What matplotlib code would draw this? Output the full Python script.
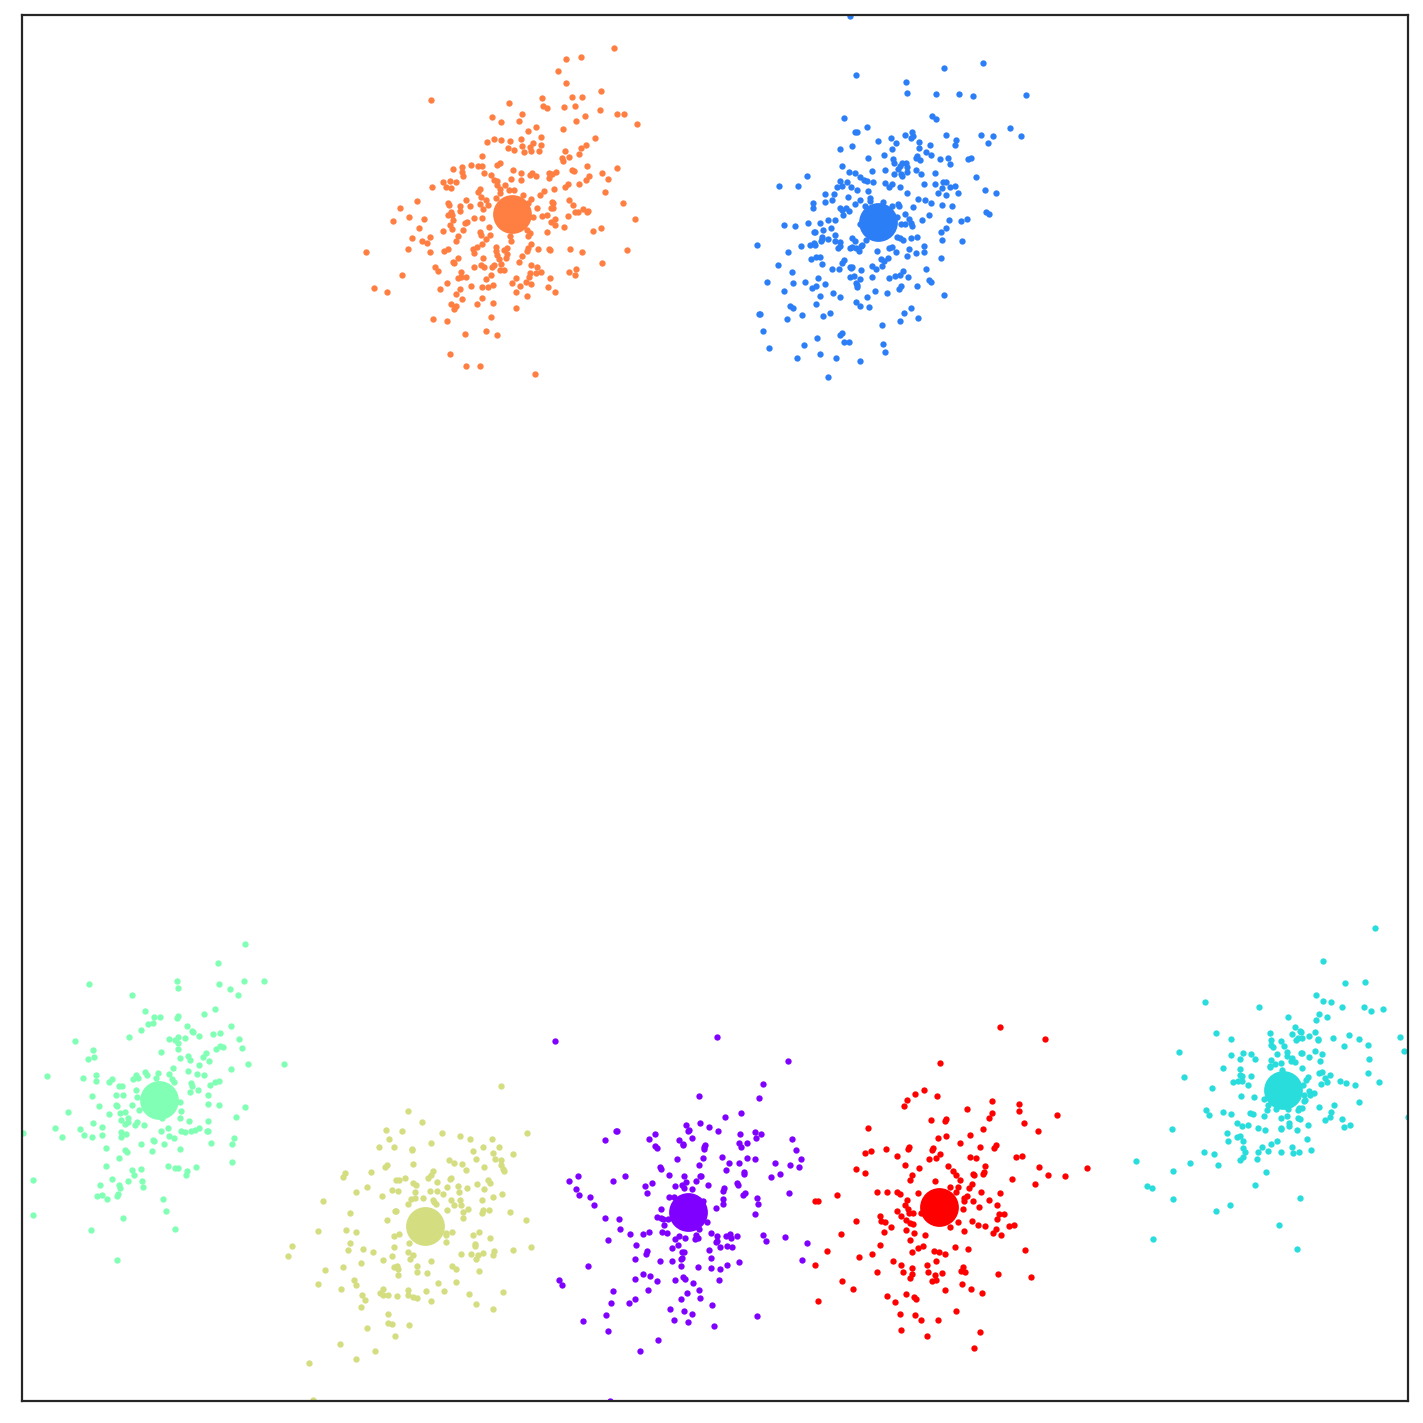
import numpy as np
import matplotlib
matplotlib.use('Agg')
import matplotlib.pyplot as plt

# points, in units of 1/3 pixel from each cluster's origin
orange = [(793,55),(649,88),(694,82),(625,124),(649,160),(754,184),(667,202),(697,202),(577,205),(478,220),(244,211),(580,229),(592,235),(643,232),(676,229),(751,241),(802,253),(823,253),(706,259),(517,253),(427,262),(454,277),(508,274),(679,274),(862,283),(559,292),(535,304),(640,298),(574,322),(433,328),(454,331),(412,337),(481,334),(514,328),(736,325),(550,340),(574,346),(517,349),(541,352),(709,346),(694,355),(475,355),(493,361),(523,367),(544,364),(568,364),(646,364),(688,373),(397,379),(637,385),(658,382),(640,394),(451,400),(442,406),(364,406),(385,409),(397,409),(337,412),(310,418),(712,409),(802,415),(490,421),(667,421),(673,424),(337,427),(340,439),(403,430),(424,436),(514,430),(547,430),(541,436),(559,439),(598,430),(619,427),(607,433),(598,445),(757,430),(718,439),(775,448),(709,451),(280,457),(301,454),(319,457),(484,448),(514,451),(433,451),(442,454),(442,466),(466,466),(289,472),(304,475),(247,472),(688,463),(655,463),(646,472),(391,478),(385,487),(451,478),(478,481),(493,481),(451,490),(613,478),(583,484),(571,496),(766,487),(394,502),(520,496),(439,505),(409,511),(544,508),(349,511),(202,514),(658,511),(295,520),(298,526),(415,526),(391,523),(361,529),(331,529),(535,520),(607,517),(610,520),(820,520),(670,526),(151,535),(400,538),(331,544),(562,535),(604,535),(610,535),(700,538),(676,547),(685,547),(715,544),(712,547),(295,556),(304,547),(307,556),(178,562),(373,565),(397,565),(550,562),(577,559),(592,556),(655,559),(223,568),(130,574),(310,571),(346,580),(352,577),(856,568),(616,568),(604,577),(301,586),(616,586),(643,592),(208,595),(418,592),(754,595),(307,598),(340,601),(280,604),(730,604),(532,601),(592,607),(541,610),(391,607),(394,616),(421,616),(535,619),(481,619),(325,619),(187,625),(241,622),(217,634),(232,640),(319,634),(409,628),(484,634),(397,643),(544,643),(49,667),(175,658),(241,667),(283,664),(295,658),(370,658),(382,652),(373,670),(439,652),(439,664),(463,661),(472,655),(535,655),(532,664),(565,658),(598,658),(601,661),(661,658),(697,667),(832,661),(472,673),(442,676),(469,685),(517,679),(400,685),(448,688),(325,685),(310,697),(313,700),(508,697),(757,700),(256,712),(265,724),(373,712),(394,706),(403,712),(427,712),(433,706),(454,703),(451,721),(463,721),(544,706),(562,712),(574,727),(559,730),(541,730),(679,718),(658,727),(676,736),(334,727),(157,736),(424,736),(349,742),(325,745),(334,742),(409,748),(499,745),(538,742),(601,745),(292,760),(487,760),(529,757),(544,763),(271,778),(364,769),(397,772),(415,772),(430,766),(511,769),(331,778),(595,772),(73,775),(112,787),(319,793),(499,787),(616,787),(532,799),(337,808),(397,805),(304,823),(319,829),(313,838),(382,823),(430,820),(499,835),(250,868),(292,874),(424,862),(346,913),(409,904),(442,916),(301,973),(349,1009),(391,1009),(556,1033)]

blue = [(316,17),(715,160),(598,175),(334,196),(484,217),(487,250),(574,253),(643,253),(685,259),(844,256),(562,319),(574,328),(298,325),(367,352),(331,367),(337,367),(796,355),(502,367),(481,376),(604,376),(709,376),(745,379),(829,379),(439,385),(499,385),(505,379),(634,391),(400,394),(454,400),(523,397),(730,400),(556,406),(631,406),(322,409),(286,418),(442,418),(523,415),(544,427),(418,436),(559,436),(370,445),(445,448),(517,439),(514,445),(526,451),(586,448),(610,445),(670,448),(679,445),(448,460),(616,463),(472,460),(484,460),(466,469),(487,472),(292,469),(460,478),(421,481),(382,484),(514,481),(313,487),(331,490),(487,487),(448,493),(469,493),(472,499),(529,493),(571,490),(187,499),(346,502),(694,502),(358,511),(367,514),(286,514),(307,517),(385,517),(421,520),(442,523),(538,523),(571,523),(595,517),(604,517),(103,529),(160,529),(277,532),(292,529),(319,532),(433,532),(466,532),(592,535),(616,532),(631,529),(337,541),(370,544),(721,541),(241,553),(268,553),(487,550),(580,550),(640,550),(754,550),(604,556),(310,562),(376,565),(262,571),(346,571),(376,574),(520,568),(541,571),(241,577),(205,580),(331,583),(415,577),(559,580),(592,586),(622,589),(205,595),(286,595),(304,595),(361,589),(442,589),(460,583),(463,589),(505,592),(313,604),(292,601),(724,607),(733,613),(295,616),(481,613),(553,616),(457,622),(250,631),(271,631),(493,628),(532,631),(613,631),(649,634),(667,628),(190,640),(226,640),(118,646),(151,649),(346,643),(469,643),(481,643),(499,640),(502,649),(235,661),(259,655),(604,655),(208,667),(211,667),(589,667),(271,676),(232,682),(250,688),(232,688),(229,694),(271,694),(322,685),(331,694),(457,682),(466,685),(475,691),(499,685),(517,682),(592,691),(652,694),(364,691),(37,706),(169,709),(196,706),(208,700),(211,706),(286,697),(286,709),(280,715),(316,715),(322,712),(334,715),(352,706),(349,709),(343,724),(433,715),(442,712),(493,718),(538,709),(130,727),(397,724),(454,727),(514,730),(538,727),(487,739),(214,742),(226,742),(199,748),(298,751),(292,760),(409,748),(430,745),(418,754),(589,745),(232,763),(100,766),(382,769),(412,769),(262,778),(283,778),(316,772),(322,772),(319,775),(394,778),(349,781),(544,778),(475,784),(142,787),(328,799),(316,802),(346,808),(382,802),(433,805),(451,799),(466,796),(490,802),(220,805),(553,811),(559,817),(67,817),(145,820),(181,817),(241,823),(334,820),(337,826),(337,832),(214,829),(202,835),(469,829),(463,838),(517,829),(118,844),(265,850),(391,844),(427,850),(226,859),(286,862),(367,862),(598,856),(334,877),(214,883),(136,889),(145,895),(346,889),(373,892),(499,895),(478,910),(43,913),(46,913),(172,916),(256,910),(235,919),(127,928),(466,934),(520,925),(412,946),(55,964),(292,970),(286,976),(217,985),(298,997),(313,997),(178,1006),(415,1003),(73,1015),(421,1027),(226,1033),(157,1045),(274,1045),(346,1054),(250,1102)]

green = [(691,43),(610,100),(487,154),(688,154),(748,154),(223,163),(613,163),(490,175),(646,178),(352,196),(670,196),(601,238),(391,244),(568,253),(490,259),(487,265),(418,262),(436,262),(415,280),(400,283),(517,289),(649,289),(379,301),(532,304),(535,307),(595,313),(616,310),(553,319),(343,322),(463,328),(490,322),(511,325),(481,331),(673,328),(181,334),(490,340),(616,349),(625,352),(604,358),(682,355),(235,361),(490,358),(439,367),(574,370),(238,382),(220,388),(565,382),(520,379),(496,385),(526,391),(583,394),(700,403),(808,403),(553,406),(475,415),(649,418),(520,424),(391,427),(397,436),(430,430),(463,433),(547,433),(568,436),(97,439),(244,436),(205,445),(364,436),(355,448),(370,445),(424,445),(472,448),(478,457),(292,448),(283,457),(244,454),(613,454),(601,457),(529,460),(586,466),(532,469),(313,469),(322,469),(364,481),(550,481),(526,487),(232,499),(304,496),(325,496),(367,502),(580,496),(496,517),(580,523),(613,526),(253,529),(304,526),(307,529),(352,526),(691,532),(373,541),(499,544),(160,547),(283,553),(316,550),(331,547),(664,562),(496,565),(340,565),(442,565),(319,571),(523,574),(580,574),(235,580),(331,583),(340,577),(367,577),(361,586),(388,586),(262,592),(121,595),(196,598),(460,595),(553,595),(541,601),(529,604),(439,604),(499,604),(511,607),(577,604),(580,604),(319,607),(23,610),(334,613),(208,616),(262,616),(142,622),(232,622),(319,622),(463,619),(478,625),(658,625),(415,631),(418,634),(379,643),(448,643),(589,640),(652,643),(274,655),(496,658),(331,661),(337,667),(412,664),(313,685),(652,697),(274,709),(460,709),(481,715),(490,715),(544,712),(352,721),(379,718),(517,724),(358,736),(514,736),(292,748),(55,751),(340,754),(382,754),(256,766),(313,766),(316,775),(385,772),(247,799),(262,796),(310,793),(307,799),(277,808),(445,808),(454,844),(55,856),(325,865),(229,901),(481,898),(307,991)]

yellow = [(664,34),(385,109),(427,142),(319,166),(367,169),(487,175),(742,175),(541,184),(328,193),(571,193),(637,193),(454,205),(298,217),(343,217),(397,223),(397,226),(610,217),(658,217),(580,229),(640,235),(700,238),(589,253),(646,253),(664,256),(508,256),(523,265),(547,268),(400,268),(664,271),(613,277),(322,271),(316,277),(670,283),(673,289),(559,286),(274,292),(196,295),(190,307),(460,289),(454,301),(445,310),(376,310),(349,316),(358,316),(514,310),(511,313),(625,316),(631,325),(472,322),(400,325),(409,331),(592,328),(262,337),(535,334),(502,337),(562,340),(613,343),(337,346),(355,349),(451,349),(472,349),(406,352),(538,352),(229,352),(490,358),(667,358),(307,364),(640,367),(394,373),(406,370),(430,370),(514,376),(541,376),(607,376),(460,376),(463,382),(130,379),(385,388),(469,388),(523,391),(544,391),(565,403),(502,406),(610,406),(628,406),(607,415),(550,412),(346,409),(349,409),(211,415),(691,412),(550,430),(322,436),(739,436),(115,469),(199,466),(229,472),(517,472),(598,472),(499,475),(499,481),(580,481),(343,484),(358,478),(631,490),(211,505),(388,505),(499,502),(586,508),(586,514),(37,514),(754,517),(343,517),(205,526),(250,523),(280,532),(385,532),(700,526),(643,529),(610,535),(574,538),(544,538),(595,541),(640,541),(400,541),(337,544),(25,544),(391,553),(589,553),(310,556),(454,559),(244,565),(190,577),(343,577),(352,574),(355,583),(412,574),(517,574),(529,583),(136,586),(598,589),(412,592),(442,595),(355,601),(223,616),(115,628),(229,631),(475,625),(529,622),(184,643),(310,643),(385,646),(439,649),(493,649),(301,655),(310,661),(325,661),(247,661),(352,664),(385,661),(400,667),(412,670),(568,658),(670,652),(256,676),(454,679),(589,688),(244,697),(640,703),(325,718),(325,745),(337,748),(388,751),(262,760),(346,784),(181,808),(286,829),(229,853),(88,865),(100,974)]

purple = [(31,34),(517,22),(730,94),(655,163),(463,199),(643,205),(589,250),(541,262),(466,280),(424,286),(493,292),(430,304),(433,301),(214,304),(217,304),(520,304),(331,313),(586,313),(631,307),(649,313),(181,331),(313,328),(403,331),(442,325),(634,325),(742,328),(415,343),(415,346),(481,346),(478,352),(478,358),(583,340),(607,340),(589,352),(331,349),(337,355),(754,361),(397,388),(475,385),(532,382),(607,385),(631,388),(769,388),(553,400),(583,400),(691,400),(463,406),(736,406),(763,412),(346,412),(349,418),(544,421),(598,427),(598,433),(706,433),(373,436),(418,439),(466,439),(469,439),(679,442),(100,439),(241,439),(73,454),(205,454),(424,457),(454,454),(322,460),(301,469),(391,469),(412,466),(418,475),(490,466),(577,460),(580,466),(94,478),(442,478),(538,475),(535,484),(307,490),(103,496),(601,490),(595,496),(733,490),(136,502),(373,502),(388,502),(637,505),(535,508),(475,514),(148,526),(535,523),(640,523),(514,535),(349,538),(631,553),(181,565),(223,568),(337,562),(349,565),(355,568),(370,568),(487,577),(358,586),(226,598),(463,598),(256,613),(295,613),(313,607),(352,607),(367,610),(499,610),(454,616),(517,619),(544,619),(556,613),(559,625),(577,619),(655,616),(721,622),(190,631),(403,619),(391,628),(421,625),(451,628),(460,625),(517,634),(514,637),(664,634),(787,640),(274,646),(400,646),(526,652),(547,649),(562,652),(382,655),(493,661),(307,664),(304,673),(412,667),(418,667),(271,688),(346,694),(382,694),(409,688),(412,685),(499,685),(772,691),(583,697),(130,709),(409,709),(460,712),(499,715),(526,718),(547,706),(271,748),(295,733),(316,739),(337,754),(391,751),(415,742),(421,748),(523,751),(43,751),(52,766),(445,760),(205,784),(310,781),(463,781),(427,790),(409,808),(466,805),(271,808),(199,820),(253,820),(502,826),(376,838),(418,844),(442,853),(184,856),(637,859),(115,874),(388,871),(430,877),(508,889),(190,904),(340,931),(286,964),(196,1112)]

red = [(601,22),(736,58),(421,130),(373,211),(346,223),(322,241),(412,229),(313,259),(577,244),(658,253),(502,268),(658,274),(577,280),(772,286),(568,295),(394,301),(439,298),(436,304),(673,310),(205,325),(550,328),(715,334),(511,346),(439,349),(415,355),(481,370),(589,376),(583,385),(328,382),(325,388),(259,388),(400,385),(397,391),(541,382),(214,394),(196,400),(421,403),(292,409),(388,418),(409,415),(511,412),(529,415),(649,412),(667,409),(316,436),(445,439),(556,439),(718,442),(862,445),(169,448),(358,445),(460,454),(196,460),(337,466),(469,466),(520,463),(523,466),(553,457),(550,463),(745,466),(796,469),(331,481),(406,484),(481,481),(637,478),(706,493),(517,493),(451,502),(475,502),(508,505),(232,517),(262,517),(292,517),(301,523),(355,520),(469,517),(544,517),(601,520),(112,526),(502,529),(493,535),(322,541),(493,544),(520,544),(568,541),(46,544),(55,544),(316,556),(592,556),(538,562),(325,568),(490,568),(292,574),(328,580),(340,580),(364,580),(598,583),(613,583),(241,589),(304,589),(592,598),(244,604),(256,607),(319,601),(331,610),(340,613),(169,604),(475,607),(517,604),(535,616),(556,619),(628,619),(643,616),(274,622),(451,622),(589,628),(319,631),(493,634),(253,637),(343,640),(580,640),(604,646),(124,643),(376,646),(331,661),(241,676),(370,679),(355,685),(466,682),(505,688),(676,691),(82,694),(337,697),(403,694),(418,697),(436,703),(217,703),(178,712),(280,724),(409,724),(304,736),(382,736),(46,736),(337,745),(490,742),(232,757),(310,757),(385,757),(484,754),(496,757),(427,760),(337,763),(406,766),(595,763),(331,775),(694,772),(127,784),(397,784),(409,781),(487,793),(160,808),(436,811),(514,808),(547,820),(262,829),(319,823),(343,832),(349,838),(286,847),(55,844),(469,874),(301,883),(346,886),(364,901),(415,901),(304,931),(541,937),(382,949),(523,985)]

cyan = [(736,25),(580,124),(646,190),(706,187),(559,226),(226,247),(580,244),(604,247),(388,262),(637,262),(703,262),(724,274),(760,268),(568,283),(475,292),(592,292),(559,301),(496,322),(259,340),(421,340),(487,343),(511,334),(514,337),(556,337),(538,349),(658,346),(304,358),(424,361),(499,361),(505,355),(517,355),(565,358),(565,361),(610,355),(688,358),(811,352),(454,364),(424,376),(430,382),(463,379),(643,379),(715,376),(148,397),(340,400),(364,403),(304,406),(442,403),(472,397),(472,409),(514,400),(517,400),(556,394),(577,403),(823,394),(331,418),(376,418),(487,415),(538,412),(718,418),(424,421),(484,424),(496,427),(571,424),(436,433),(454,430),(421,439),(421,442),(280,445),(331,448),(517,445),(457,451),(331,466),(337,469),(364,469),(163,472),(568,460),(577,457),(601,466),(715,460),(535,472),(586,475),(325,484),(310,487),(337,484),(631,484),(592,487),(649,490),(748,487),(574,493),(676,496),(355,496),(529,481),(520,496),(247,505),(538,514),(553,520),(541,526),(523,526),(334,529),(373,532),(403,538),(526,541),(523,544),(688,547),(613,556),(415,556),(517,565),(508,565),(568,562),(229,571),(505,571),(412,571),(439,568),(475,568),(280,577),(304,583),(361,580),(370,583),(604,577),(238,586),(403,589),(454,595),(472,589),(505,595),(511,598),(601,592),(637,598),(586,601),(833,592),(322,610),(478,610),(478,619),(337,619),(355,616),(535,616),(661,616),(643,622),(385,625),(127,628),(406,631),(454,625),(454,628),(502,631),(292,640),(322,652),(331,649),(295,664),(340,664),(442,664),(532,658),(424,673),(397,682),(340,685),(487,682),(346,697),(385,697),(415,694),(454,697),(490,700),(508,697),(544,691),(223,697),(253,703),(340,712),(331,721),(382,718),(19,724),(181,730),(265,736),(130,754),(409,757),(376,796),(52,799),(67,805),(511,835),(130,838),(301,856),(259,874),(448,916),(70,958),(502,988)]

# order follows the rainbow colormap
clusters = [purple, blue, cyan, green, yellow, orange, red]
origins = [(545, 1030), (745, 10), (1130, 920), (15, 930), (280, 1075), (350, 30), (800, 1020)]
centers = [(688, 1212), (878, 222), (1283, 1090), (159, 1100), (425, 1226), (512, 214), (939, 1207)]

colors = plt.cm.rainbow(np.linspace(0, 1, len(clusters)))

fig = plt.figure(figsize=(7.115, 7.115), dpi=200)
ax = fig.add_axes([22 / 1423, 1 - 1400.5 / 1423, 1386 / 1423, 1385.5 / 1423])

for pts, origin, center, color in zip(clusters, origins, centers, colors):
    pts = np.array(pts) / 3 + origin
    ax.scatter(pts[:, 0], pts[:, 1], s=5.2, color=color, linewidths=0)
    ax.scatter(center[0], center[1], s=195, color=color, linewidths=0)

ax.set_xlim(22, 1408)
ax.set_ylim(1400.5, 15)
ax.set_xticks([])
ax.set_yticks([])
for spine in ax.spines.values():
    spine.set_edgecolor('#262626')

plt.savefig('out.png', dpi=200)
